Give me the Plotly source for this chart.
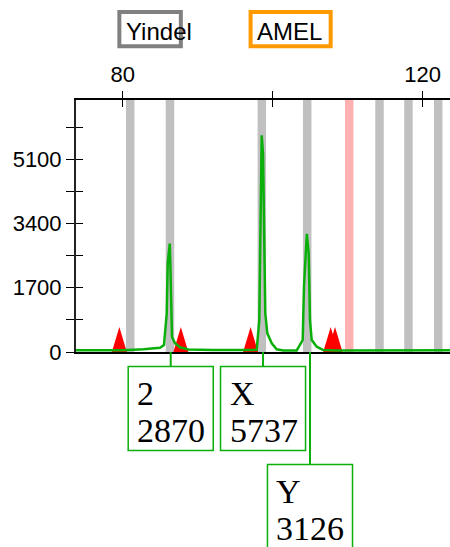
import plotly.graph_objects as go

# ---------------- data ----------------
x_range = [73.77, 123.64]
y_range = [0, 6670]
x_tickvals = [80, 100, 120]
x_ticktext = ["80", "", "120"]
y_tickvals = [0, 850, 1700, 2550, 3400, 4250, 5100, 5950]
y_ticktext = ["0", "", "1700", "", "3400", "", "5100", ""]

bin_centers = [81.0, 86.3, 98.55, 104.6, 110.2, 114.24, 118.1, 122.07]
bin_colors = ["#c0c0c0", "#c0c0c0", "#c0c0c0", "#c0c0c0", "#ffb0b0",
              "#c0c0c0", "#c0c0c0", "#c0c0c0"]
bin_width = 1.13

loci = ["Yindel", "AMEL"]
locus_start = [79.55, 97.05]
locus_end = [87.75, 107.73]
locus_colors = ["#808080", "#ff9900"]

marker_pos = [79.55, 87.75, 97.05, 107.73, 108.31]
marker_height = 660
marker_halfwidth = 1.0

trace_x = [73.77, 80.0, 82.75, 84.97, 85.5, 85.87, 86.0, 86.27, 86.35, 86.44,
           86.57, 86.97, 87.64, 88.75, 92.0, 97.5, 97.87, 98.21, 98.4, 98.53,
           98.71, 98.84, 99.01, 99.28, 99.87, 100.53, 101.41, 103.2, 104.0,
           104.17, 104.55, 104.8, 104.97, 105.2, 105.87, 106.75, 108.5, 123.64]
trace_y = [45, 45, 75, 114, 185, 1023, 2345, 2870, 2345, 1023,
           405, 230, 124, 66, 50, 50, 60, 846, 3490, 5737,
           5254, 2610, 1023, 494, 230, 71, 40, 40, 317,
           1727, 3126, 2610, 846, 317, 140, 53, 40, 45]

allele_names = ["2", "X", "Y"]
allele_heights = [2870, 5737, 3126]
allele_pos = [86.4, 98.71, 104.97]
allele_row = [0, 0, 1]

# ---------------- style ----------------
GREEN = "rgb(10,175,10)"
W, H = 450, 547
ML, MR, MT, MB = 76, 0, 100, 195
PH = H - MT - MB  # plot height in px


def px_down(p):
    """paper-y offset for p pixels below the plot bottom"""
    return -p / PH


def px_up(p):
    """paper-y for p pixels above the plot top"""
    return 1 + p / PH


fig = go.Figure()

# red triangles (locus/marker flags)
tx, ty = [], []
for p in marker_pos:
    tx += [p - marker_halfwidth, p, p + marker_halfwidth, p - marker_halfwidth, None]
    ty += [0, marker_height, 0, 0, None]
fig.add_trace(go.Scatter(x=tx, y=ty, mode="lines", fill="toself",
                         fillcolor="#ff0000", line=dict(color="#ff0000", width=0),
                         hoverinfo="skip", showlegend=False))

# green trace
fig.add_trace(go.Scatter(x=trace_x, y=trace_y, mode="lines",
                         line=dict(color=GREEN, width=2.5),
                         hoverinfo="skip", showlegend=False))

# dummy for the overlay axes (inside ticks)
fig.add_trace(go.Scatter(x=[None], y=[None], xaxis="x2", yaxis="y2",
                         showlegend=False, hoverinfo="skip"))

shapes = []
annotations = []

# bins
for c, col in zip(bin_centers, bin_colors):
    shapes.append(dict(type="rect", xref="x", yref="paper",
                       x0=c - bin_width / 2, x1=c + bin_width / 2, y0=0, y1=1,
                       fillcolor=col, line=dict(width=0), layer="below"))

# locus header boxes
for name, s, e, col in zip(loci, locus_start, locus_end, locus_colors):
    shapes.append(dict(type="rect", xref="x", yref="paper",
                       x0=s, x1=e, y0=px_up(100 - 46.3), y1=px_up(100 - 12),
                       line=dict(color=col, width=4), fillcolor="rgba(0,0,0,0)"))
    annotations.append(dict(x=s, xref="x", xanchor="left", xshift=4.5,
                            y=px_up(100 - 31), yref="paper", yanchor="middle",
                            text=name, showarrow=False,
                            font=dict(family="Liberation Sans", size=24, color="black")))

# allele label boxes
box_half = 5.67
row_step = 98  # px
box_h = 84
for name, h, pos, row in zip(allele_names, allele_heights, allele_pos, allele_row):
    top_px = 14.5 + row * row_step
    top = px_down(top_px)
    shapes.append(dict(type="line", xref="x", yref="paper",
                       x0=pos, x1=pos, y0=0, y1=top,
                       line=dict(color=GREEN, width=2)))
    shapes.append(dict(type="rect", xref="x", yref="paper",
                       x0=pos - box_half, x1=pos + box_half,
                       y0=top, y1=px_down(top_px + box_h),
                       line=dict(color=GREEN, width=1.5), fillcolor="white"))
    for txt, off in ((name, 26.5), (str(h), 64.0)):
        annotations.append(dict(x=pos - box_half, xref="x", xanchor="left", xshift=7,
                                y=px_down(top_px + off), yref="paper", yanchor="middle",
                                text=txt, showarrow=False,
                                font=dict(family="Liberation Serif", size=34, color="black")))

axis_font = dict(family="Liberation Sans", size=22, color="black")

fig.update_layout(
    width=W, height=H,
    margin=dict(l=ML, r=MR, t=MT, b=MB, pad=0),
    paper_bgcolor="white", plot_bgcolor="white",
    shapes=shapes, annotations=annotations,
    xaxis=dict(range=x_range, side="top", showline=True, linecolor="black", linewidth=2,
               mirror=True, ticks="outside", ticklen=7, tickwidth=1, tickcolor="black",
               tickmode="array", tickvals=x_tickvals, ticktext=x_ticktext,
               tickfont=axis_font, showgrid=False, zeroline=False, fixedrange=True),
    xaxis2=dict(range=x_range, overlaying="x", anchor="y", side="top", showline=False,
                ticks="inside", ticklen=7, tickwidth=1, tickcolor="black",
                tickmode="array", tickvals=x_tickvals, showticklabels=False,
                showgrid=False, zeroline=False),
    yaxis=dict(range=y_range, showline=True, linecolor="#222", linewidth=2,
               ticks="outside", ticklen=8, tickwidth=1, tickcolor="black",
               tickmode="array", tickvals=y_tickvals, ticktext=y_ticktext,
               tickfont=axis_font, showgrid=False, zeroline=False, fixedrange=True),
    yaxis2=dict(range=y_range, overlaying="y", anchor="x", side="left", showline=False,
                ticks="inside", ticklen=7, tickwidth=1, tickcolor="black",
                tickmode="array", tickvals=y_tickvals, showticklabels=False,
                showgrid=False, zeroline=False),
)

fig.write_html("out.html")
